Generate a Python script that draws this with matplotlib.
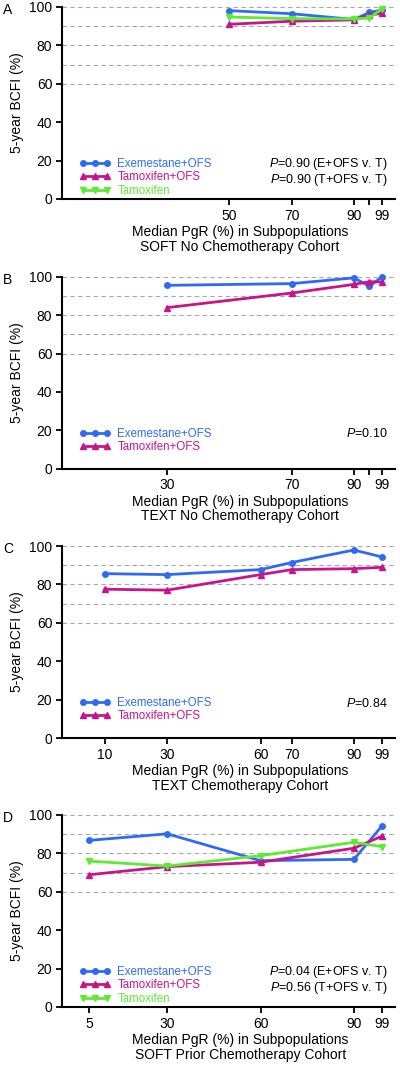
import numpy as np
import matplotlib
matplotlib.use("Agg")
import matplotlib.pyplot as plt

plt.rcParams['font.family'] = ['Liberation Sans', 'DejaVu Sans']
plt.rcParams['mathtext.fontset'] = 'custom'
plt.rcParams['mathtext.rm'] = 'Liberation Sans'
plt.rcParams['mathtext.it'] = 'Liberation Sans:italic'

# --- data ---
a_x = [50, 70, 90, 95, 99]
a_labels = ['50', '70', '90', '', '99']
a_exe = [98.1, 96.5, 93.5, 97.2, 98.4]
a_tam_ofs = [91.0, 92.6, 93.3, 95.8, 96.8]
a_tam = [94.8, 93.9, 93.8, 94.3, 99.0]

b_x = [30, 70, 90, 95, 99]
b_labels = ['30', '70', '90', '', '99']
b_exe = [95.5, 96.4, 99.4, 95.0, 100.0]
b_tam_ofs = [83.9, 91.5, 96.0, 97.4, 97.2]

c_x = [10, 30, 60, 70, 90, 99]
c_labels = ['10', '30', '60', '70', '90', '99']
c_exe = [85.6, 85.1, 87.7, 91.4, 97.9, 94.3]
c_tam_ofs = [77.5, 77.0, 85.1, 87.7, 88.2, 88.9]

d_x = [5, 30, 60, 90, 99]
d_labels = ['5', '30', '60', '90', '99']
d_exe = [86.8, 90.2, 76.2, 76.9, 94.3]
d_tam_ofs = [68.9, 73.1, 75.4, 82.7, 89.0]
d_tam = [76.0, 73.4, 78.8, 85.8, 83.5]

cohorts = ['SOFT No Chemotherapy Cohort', 'TEXT No Chemotherapy Cohort',
           'TEXT Chemotherapy Cohort', 'SOFT Prior Chemotherapy Cohort']
pvals = [['=0.90 (E+OFS v. T)', '=0.90 (T+OFS v. T)'], ['=0.10'], ['=0.84'],
         ['=0.04 (E+OFS v. T)', '=0.56 (T+OFS v. T)']]

BLUE = '#2F6BF2'
MAGENTA = '#C8148C'
GREEN = '#5CEB32'

panels = [
    ('A', a_x, a_labels, [a_exe, a_tam_ofs, a_tam]),
    ('B', b_x, b_labels, [b_exe, b_tam_ofs]),
    ('C', c_x, c_labels, [c_exe, c_tam_ofs]),
    ('D', d_x, d_labels, [d_exe, d_tam_ofs, d_tam]),
]
names = ['Exemestane+OFS', 'Tamoxifen+OFS', 'Tamoxifen']
colors = [BLUE, MAGENTA, GREEN]
markers = ['o', '^', 'v']

W, H = 400, 1067
fig = plt.figure(figsize=(W / 100, H / 100), dpi=100)

# axes bottom in pixels
bottoms = [199, 468.7, 738, 1007]
left_px, right_px = 62, 395
height_px = 192

for i, (letter, xs, labels, series) in enumerate(panels):
    b = bottoms[i]
    ax = fig.add_axes([left_px / W, 1 - b / H, (right_px - left_px) / W, height_px / H])
    for y in [60, 70, 80, 90, 100]:
        ax.axhline(y, color='#a8a8a8', lw=0.8, ls=(0, (4, 3)), zorder=0, clip_on=False)
    handles = []
    for k, ys in enumerate(series):
        h, = ax.plot(xs, ys, color=colors[k], marker=markers[k], ms=4, lw=2,
                     label=names[k], clip_on=False, zorder=3)
        handles.append(h)
    ax.set_xlim(-3.8, 103.2)
    ax.set_ylim(0, 100)
    ax.set_yticks([0, 20, 40, 60, 80, 100])
    ax.set_xticks(xs)
    ax.set_xticklabels(labels)
    for s in ['top', 'right']:
        ax.spines[s].set_visible(False)
    for s in ['left', 'bottom']:
        ax.spines[s].set_linewidth(1.5)
    ax.tick_params(axis='both', direction='out', length=4, width=1.3, labelsize=10, pad=3)
    ax.set_ylabel('5-year BCFI (%)', fontsize=10, labelpad=4)
    # x label (two lines) placed below the tick labels
    ax.text(0.535, -26 / height_px, 'Median PgR (%) in Subpopulations\n' + cohorts[i],
            transform=ax.transAxes, ha='center', va='top', fontsize=10,
            linespacing=1.05)

    leg = ax.legend(handles=handles, loc='upper left', bbox_to_anchor=(0.052, 0.214),
                    frameon=False, fontsize=8.3, numpoints=3, handlelength=2.7,
                    handletextpad=0.6, labelspacing=0.12, borderaxespad=0,
                    borderpad=0)
    for t, c in zip(leg.get_texts(), colors):
        t.set_color(c)

    for j, p in enumerate(pvals[i]):
        ax.text(0.979, 0.182 - j * 0.083, r'$\mathit{P}$' + p, transform=ax.transAxes,
                ha='right', va='center', fontsize=9)

    fig.text(3 / W, 1 - (b - height_px - 4) / H, letter, fontsize=10, va='top', ha='left')

fig.savefig('out.png', dpi=100)
